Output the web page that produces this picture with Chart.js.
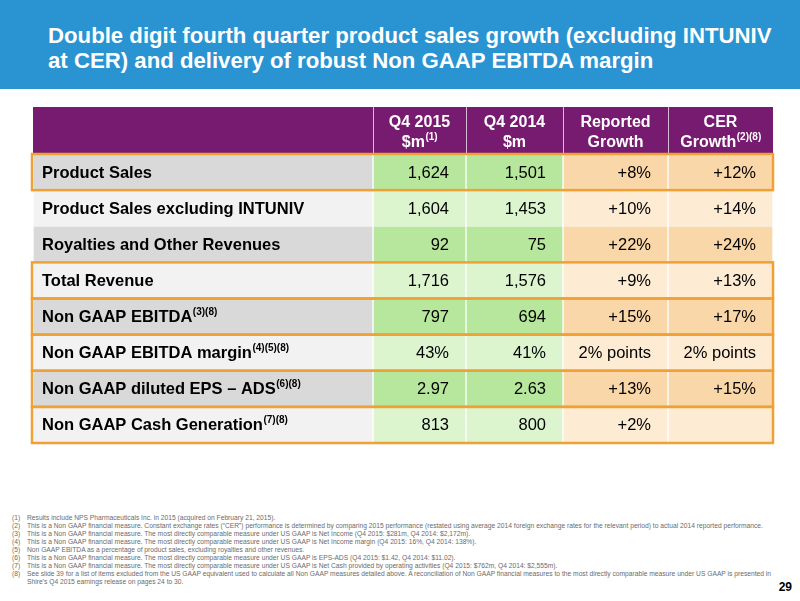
<!DOCTYPE html>
<html>
<head>
<meta charset="utf-8">
<script src="https://cdn.jsdelivr.net/npm/chart.js@4.4.1/dist/chart.umd.min.js"></script>
<style>
  html, body { margin: 0; padding: 0; background: #fff; }
  body { width: 800px; height: 601px; position: relative; overflow: hidden; font-family: "Liberation Sans", Arial, sans-serif; }
  #band { position: absolute; left: 0; top: 0; width: 800px; height: 89px; background: #2a93d2; }
  #title { position: absolute; left: 48px; top: 23px; color: #fff; font-weight: bold; font-size: 22.2px; line-height: 25px; }
  #wrap { position: absolute; left: 30px; top: 104px; width: 746px; height: 342px; }
  #notes { position: absolute; left: 12px; top: 514px; width: 768px; font-size: 6.7px; line-height: 8px; color: #6b6b6b; }
  #notes div { display: flex; }
  #notes span.n { width: 15px; flex: none; }
  #page { position: absolute; right: 8px; top: 580px; font-size: 12px; font-weight: bold; color: #000; }
</style>
</head>
<body>
<div id="band"></div>
<div id="title">Double digit fourth quarter product sales growth (excluding INTUNIV<br>at CER) and delivery of robust Non GAAP EBITDA margin</div>
<div id="wrap"><canvas id="tableChart"></canvas></div>
<div id="notes"></div>
<div id="page">29</div>
<script>
// table content
const rowNames = ['Product Sales', 'Product Sales excluding INTUNIV', 'Royalties and Other Revenues', 'Total Revenue',
    'Non GAAP EBITDA', 'Non GAAP EBITDA margin', 'Non GAAP diluted EPS \u2013 ADS', 'Non GAAP Cash Generation'];
const rowNotes = ['', '', '', '', '(3)(8)', '(4)(5)(8)', '(6)(8)', '(7)(8)'];
const rowUnits = ['m', 'm', 'm', 'm', 'm', '%', 'eps', 'm'];
const q4_2015 = [1624, 1604, 92, 1716, 797, 43, 2.97, 813];
const q4_2014 = [1501, 1453, 75, 1576, 694, 41, 2.63, 800];
const reportedGrowth = [8, 10, 22, 9, 15, 2, 13, 2];
const cerGrowth = [12, 14, 24, 13, 17, 2, 15, null];

const headTop = ['', 'Q4 2015', 'Q4 2014', 'Reported', 'CER'];
const headBottom = ['', '$m', '$m', 'Growth', 'Growth'];
const headNotes = ['', '(1)', '', '', '(2)(8)'];

const footnotes = [
    'Results include NPS Pharmaceuticals Inc. in 2015 (acquired on February 21, 2015).',
    'This is a Non GAAP financial measure. Constant exchange rates (\u201cCER\u201d) performance is determined by comparing 2015 performance (restated using average 2014 foreign exchange rates for the relevant period) to actual 2014 reported performance.',
    'This is a Non GAAP financial measure. The most directly comparable measure under US GAAP is Net Income (Q4 2015: $281m, Q4 2014: $2,172m).',
    'This is a Non GAAP financial measure. The most directly comparable measure under US GAAP is Net Income margin (Q4 2015: 16%, Q4 2014: 138%).',
    'Non GAAP EBITDA as a percentage of product sales, excluding royalties and other revenues.',
    'This is a Non GAAP financial measure. The most directly comparable measure under US GAAP is EPS-ADS (Q4 2015: $1.42, Q4 2014: $11.02).',
    'This is a Non GAAP financial measure. The most directly comparable measure under US GAAP is Net Cash provided by operating activities (Q4 2015: $762m, Q4 2014: $2,555m).',
    'See slide 39 for a list of items excluded from the US GAAP equivalent used to calculate all Non GAAP measures detailed above. A reconciliation of Non GAAP financial measures to the most directly comparable measure under US GAAP is presented in Shire\u2019s Q4 2015 earnings release on pages 24 to 30.'
];

// layout
const colWidths = [340, 93, 97, 105, 105];
const boxedRows = [0, 3, 4, 5, 6, 7];
const darkColors = ['#d9d9d9', '#b6e79c', '#b6e79c', '#fad7a8', '#fad7a8'];
const lightColors = ['#f2f2f2', '#dcf5cf', '#dcf5cf', '#fdebd3', '#fdebd3'];

const colEdges = [0];
colWidths.forEach(w => colEdges.push(colEdges[colEdges.length - 1] + w));

function fmtValue(v, unit) {
    if (unit === '%') return v + '%';
    if (unit === 'eps') return v.toFixed(2);
    return v.toLocaleString('en-US');
}

function fmtGrowth(v, unit) {
    if (v === null) return '';
    if (unit === '%') return v + '% points';
    return '+' + v + '%';
}

const cellText = [
    rowNames,
    q4_2015.map((v, i) => fmtValue(v, rowUnits[i])),
    q4_2014.map((v, i) => fmtValue(v, rowUnits[i])),
    reportedGrowth.map((v, i) => fmtGrowth(v, rowUnits[i])),
    cerGrowth.map((v, i) => fmtGrowth(v, rowUnits[i]))
];

// footnotes as text
const notesEl = document.getElementById('notes');
footnotes.forEach((t, i) => {
    const line = document.createElement('div');
    line.innerHTML = '<span class="n">(' + (i + 1) + ')</span><span></span>';
    line.lastChild.textContent = t;
    notesEl.appendChild(line);
});

const FONT = '"Liberation Sans", Arial, sans-serif';

function textWithNote(ctx, text, note, x, y, size, align) {
    ctx.font = 'bold ' + size + 'px ' + FONT;
    const w = ctx.measureText(text).width;
    ctx.font = 'bold ' + Math.round(size * 0.62) + 'px ' + FONT;
    const nw = note ? ctx.measureText(note).width : 0;
    let left = x;
    if (align === 'center') left = x - (w + nw) / 2;
    ctx.textAlign = 'left';
    ctx.font = 'bold ' + size + 'px ' + FONT;
    ctx.fillText(text, left, y);
    if (note) {
        ctx.font = 'bold ' + Math.round(size * 0.62) + 'px ' + FONT;
        ctx.fillText(note, left + w + 0.5, y - size * 0.33);
    }
}

const tablePlugin = {
    id: 'tablePlugin',
    beforeDatasetsDraw(chart) {
        const ctx = chart.ctx;
        const xs = chart.scales.x;
        const area = chart.chartArea;
        const top = area.top - 47;
        ctx.save();
        ctx.fillStyle = '#761b6f';
        ctx.fillRect(area.left, top, area.right - area.left, 46);
        ctx.strokeStyle = 'rgba(255,255,255,0.7)';
        ctx.lineWidth = 1;
        for (let c = 1; c < colEdges.length - 1; c++) {
            const px = Math.round(xs.getPixelForValue(colEdges[c])) + 0.5;
            ctx.beginPath();
            ctx.moveTo(px, top);
            ctx.lineTo(px, top + 46);
            ctx.stroke();
        }
        ctx.fillStyle = '#ffffff';
        ctx.textBaseline = 'middle';
        for (let c = 1; c < colEdges.length - 1; c++) {
            const cx = (xs.getPixelForValue(colEdges[c]) + xs.getPixelForValue(colEdges[c + 1])) / 2;
            textWithNote(ctx, headTop[c], '', cx, top + 16, 16, 'center');
            textWithNote(ctx, headBottom[c], headNotes[c], cx, top + 36, 16, 'center');
        }
        ctx.restore();
    },
    afterDatasetsDraw(chart) {
        const ctx = chart.ctx;
        const xs = chart.scales.x;
        const ys = chart.scales.y;
        const area = chart.chartArea;
        const band = (area.bottom - area.top) / rowNames.length;
        ctx.save();
        ctx.fillStyle = '#000000';
        ctx.textBaseline = 'middle';
        rowNames.forEach((name, i) => {
            const y = ys.getPixelForValue(i) + 1;
            textWithNote(ctx, name, rowNotes[i], xs.getPixelForValue(colEdges[0]) + 9, y, 16.5, 'left');
            ctx.font = '16.5px ' + FONT;
            ctx.textAlign = 'right';
            for (let c = 1; c < cellText.length; c++) {
                ctx.fillText(cellText[c][i], xs.getPixelForValue(colEdges[c + 1]) - 17, y);
            }
        });
        // orange outlines
        ctx.strokeStyle = '#f0a133';
        ctx.lineWidth = 2.5;
        boxedRows.forEach(i => {
            const yc = ys.getPixelForValue(i);
            ctx.strokeRect(area.left - 1, yc - band / 2, area.right - area.left + 1, band);
        });
        ctx.restore();
    }
};

const datasets = colWidths.map((w, c) => ({
    label: 'col' + c,
    data: rowNames.map(() => [colEdges[c], colEdges[c + 1]]),
    backgroundColor: rowNames.map((n, i) => i % 2 === 0 ? darkColors[c] : lightColors[c]),
    borderColor: '#ffffff',
    borderWidth: { left: 1, right: 1, top: 0.5, bottom: 0.5 },
    borderSkipped: false,
    grouped: false,
    barPercentage: 1,
    categoryPercentage: 1
}));

const ctx = document.getElementById('tableChart').getContext('2d');
const tableChart = new Chart(ctx, {
    type: 'bar',
    data: { labels: rowNames, datasets: datasets },
    options: {
        indexAxis: 'y',
        responsive: true,
        maintainAspectRatio: false,
        animation: false,
        layout: { padding: { top: 50, left: 3, right: 3, bottom: 3 } },
        scales: {
            x: { type: 'linear', min: 0, max: colEdges[colEdges.length - 1], display: false },
            y: { type: 'category', display: false }
        },
        plugins: { legend: { display: false }, tooltip: { enabled: false } }
    },
    plugins: [tablePlugin]
});
</script>
</body>
</html>
